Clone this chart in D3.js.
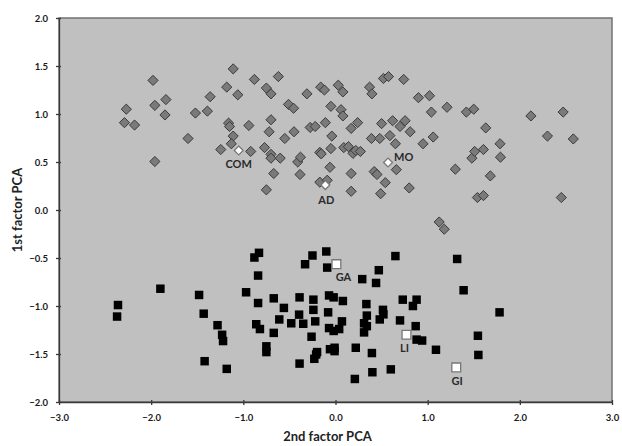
<!DOCTYPE html>
<html>
<head>
<meta charset="utf-8">
<script src="https://cdn.jsdelivr.net/npm/d3@7"></script>
<style>
  body { margin: 0; background: #fff; }
  text { font-family: Lato, "Open Sans", sans-serif; font-weight: bold; fill: #222; }
  .tick text { font-size: 9.5px; fill: #1a1a1a; }
  .axis path, .axis line { stroke: #3a3a3a; stroke-width: 1.3; }
  .lbl { font-size: 11px; fill: #2a2a2a; }
  .title { font-size: 13px; }
</style>
</head>
<body>
<svg width="622" height="446"></svg>
<script>
// group 1 (grey diamonds): [2nd factor, 1st factor]
var diamondX = [-2.27,-2.29,-2.18,-1.98,-1.96,-1.84,-1.85,-1.96,-1.60,-1.52,-1.39,-1.36,-1.245,-1.18,-1.11,-1.06,-1.16,-1.15,-1.11,-1.13,
  -0.92,-0.94,-0.88,-0.75,-0.70,-0.62,-0.70,-0.72,-0.77,-0.70,-0.70,-0.60,-0.67,-0.75,-0.51,-0.455,-0.45,-0.55,-0.41,-0.38,
  -0.385,-0.31,-0.275,-0.22,-0.16,-0.12,-0.17,-0.155,-0.11,-0.17,-0.09,-0.05,-0.04,-0.05,-0.06,0.03,0.06,0.08,0.08,0.09,
  0.14,0.17,0.19,0.17,0.17,0.24,0.22,0.27,0.37,0.395,0.39,0.42,0.45,0.48,0.50,0.49,0.52,0.575,0.54,0.59,
  0.62,0.65,0.66,0.70,0.74,0.755,0.81,0.80,0.90,0.95,1.02,1.04,1.06,1.125,1.18,1.21,1.30,1.42,1.50,1.48,
  1.51,1.54,1.605,1.63,1.605,1.68,1.785,1.79,2.12,2.30,2.45,2.47,2.58];
var diamondY = [1.05,0.91,0.885,1.35,1.09,1.15,0.99,0.505,0.745,1.01,1.03,1.18,0.63,1.28,1.47,1.20,0.905,0.87,0.77,0.69,
  0.61,0.88,1.36,1.27,1.21,1.39,0.94,0.815,0.65,0.58,0.54,0.54,0.38,0.21,1.10,1.06,0.815,0.745,0.50,0.55,
  0.37,1.21,0.86,0.87,1.28,1.25,0.60,0.585,0.91,0.29,0.31,1.08,0.77,0.64,0.445,1.30,1.045,1.23,0.98,0.65,
  0.66,0.85,0.59,0.38,0.195,0.91,0.62,0.61,1.28,1.21,0.745,0.40,0.37,0.745,0.90,0.17,1.37,1.39,0.285,0.775,
  0.93,0.69,0.42,0.87,1.36,0.93,0.815,0.23,1.17,0.69,1.19,1.02,0.76,-0.125,-0.20,1.07,0.425,1.02,1.05,0.54,
  0.61,0.13,0.15,0.855,0.63,0.355,0.69,0.55,0.98,0.77,0.13,1.02,0.74];

// group 2 (black squares)
var squareX = [-2.36,-2.37,-1.90,-1.48,-1.43,-1.42,-1.28,-1.23,-1.22,-1.18,-0.97,-0.88,-0.83,-0.84,-0.84,-0.86,-0.82,-0.75,-0.75,-0.67,
  -0.67,-0.61,-0.56,-0.48,-0.39,-0.395,-0.35,-0.39,-0.33,-0.25,-0.24,-0.24,-0.22,-0.26,-0.21,-0.23,-0.20,-0.10,-0.09,-0.08,
  -0.07,-0.02,-0.07,-0.02,-0.06,-0.01,-0.01,0.08,0.07,0.04,0.22,0.21,0.29,0.31,0.31,0.335,0.34,0.34,0.395,0.40,
  0.44,0.47,0.48,0.515,0.52,0.60,0.65,0.70,0.73,0.84,0.88,0.87,0.88,0.94,1.09,1.32,1.39,1.545,1.55,1.78];
var squareY = [-0.99,-1.11,-0.82,-0.885,-1.08,-1.575,-1.20,-1.30,-1.365,-1.655,-0.857,-0.495,-0.446,-0.683,-0.969,-1.19,-1.24,-1.42,-1.48,-0.92,
  -1.28,-1.14,-1.02,-1.18,-0.91,-1.09,-1.185,-1.60,-0.565,-0.474,-0.934,-1.04,-1.16,-1.32,-1.505,-1.55,-1.48,-0.432,-0.60,-1.066,
  -0.89,-0.91,-1.23,-1.26,-1.45,-1.435,-1.47,-0.948,-1.16,-1.24,-1.435,-1.76,-0.72,-1.18,-1.275,-0.98,-1.10,-1.21,-1.49,-1.69,
  -0.76,-0.627,-1.14,-1.04,-1.087,-1.66,-0.48,-1.15,-0.934,-1.00,-0.934,-1.21,-1.35,-1.36,-1.456,-0.51,-0.836,-1.31,-1.51,-1.066];

// labelled reference points
var refNames = ["COM", "AD", "MO", "GA", "LI", "GI"];
var refX = [-1.05, -0.11, 0.57, 0.01, 0.77, 1.31];
var refY = [0.62, 0.26, 0.495, -0.564, -1.30, -1.64];
var refShape = ["diamond", "diamond", "diamond", "square", "square", "square"];

var xTicks = [-3, -2, -1, 0, 1, 2, 3];
var yTicks = [-2, -1.5, -1, -0.5, 0, 0.5, 1, 1.5, 2];

var svg = d3.select("svg");
var m = { left: 59, top: 18, right: 10, bottom: 44 };
var w = 622 - m.left - m.right, h = 446 - m.top - m.bottom;

var x = d3.scaleLinear().domain([-3, 3]).range([0, w]);
var y = d3.scaleLinear().domain([-2, 2]).range([h, 0]);

var g = svg.append("g").attr("transform", "translate(" + m.left + "," + m.top + ")");

g.append("rect").attr("width", w).attr("height", h)
  .attr("fill", "#c0c0c0").attr("stroke", "#727272").attr("stroke-width", 1.5);

var xAxis = g.append("g").attr("class", "axis")
  .attr("transform", "translate(0," + h + ")")
  .call(d3.axisBottom(x).tickValues(xTicks).tickFormat(d3.format(".1f")).tickSizeInner(3).tickSizeOuter(0).tickPadding(9));
xAxis.selectAll(".tick line").attr("y1", -2);

var yAxis = g.append("g").attr("class", "axis")
  .call(d3.axisLeft(y).tickValues(yTicks).tickFormat(d3.format(".1f")).tickSizeInner(3).tickSizeOuter(0).tickPadding(8));
yAxis.selectAll(".tick line").attr("x1", 2);

var diamond = d3.symbol().type(d3.symbolDiamond2).size(66);
var square = d3.symbol().type(d3.symbolSquare).size(72);

var diamonds = diamondX.map(function(d, i) { return [d, diamondY[i]]; });
var squares = squareX.map(function(d, i) { return [d, squareY[i]]; });

g.append("g").selectAll("path")
  .data(diamonds).enter().append("path")
  .attr("d", diamond)
  .attr("transform", function(d) { return "translate(" + x(d[0]) + "," + y(d[1]) + ")"; })
  .attr("fill", "#7a7a7a").attr("stroke", "#3a3a3a").attr("stroke-width", 1);

g.append("g").selectAll("path")
  .data(squares).enter().append("path")
  .attr("d", square)
  .attr("transform", function(d) { return "translate(" + x(d[0]) + "," + y(d[1]) + ")"; })
  .attr("fill", "#000");

var refs = refNames.map(function(n, i) {
  return { name: n, x: refX[i], y: refY[i], shape: refShape[i] };
});

g.append("g").selectAll("path")
  .data(refs).enter().append("path")
  .attr("d", function(d) {
    return d.shape == "diamond" ? d3.symbol().type(d3.symbolDiamond2).size(50)() : d3.symbol().type(d3.symbolSquare).size(78)();
  })
  .attr("transform", function(d) { return "translate(" + x(d.x) + "," + y(d.y) + ")"; })
  .attr("fill", "#fff").attr("stroke", "#777").attr("stroke-width", 1.3);

// label offsets in px relative to the point
var labelDx = { COM: 0, AD: 1, MO: 6, GA: 7, LI: -2, GI: 1 };
var labelDy = { COM: 18, AD: 19, MO: -1, GA: 17, LI: 17, GI: 18 };
g.append("g").selectAll("text")
  .data(refs).enter().append("text")
  .attr("class", "lbl")
  .attr("x", function(d) { return x(d.x) + labelDx[d.name]; })
  .attr("y", function(d) { return y(d.y) + labelDy[d.name]; })
  .attr("text-anchor", function(d) { return d.name == "MO" ? "start" : "middle"; })
  .text(function(d) { return d.name; });

svg.append("text").attr("class", "title")
  .attr("x", m.left + w / 2 - 8).attr("y", 441)
  .attr("text-anchor", "middle").text("2nd factor  PCA");

svg.append("text").attr("class", "title")
  .attr("transform", "translate(22," + (m.top + h / 2) + ") rotate(-90)")
  .attr("text-anchor", "middle").text("1st factor  PCA");
</script>
</body>
</html>
